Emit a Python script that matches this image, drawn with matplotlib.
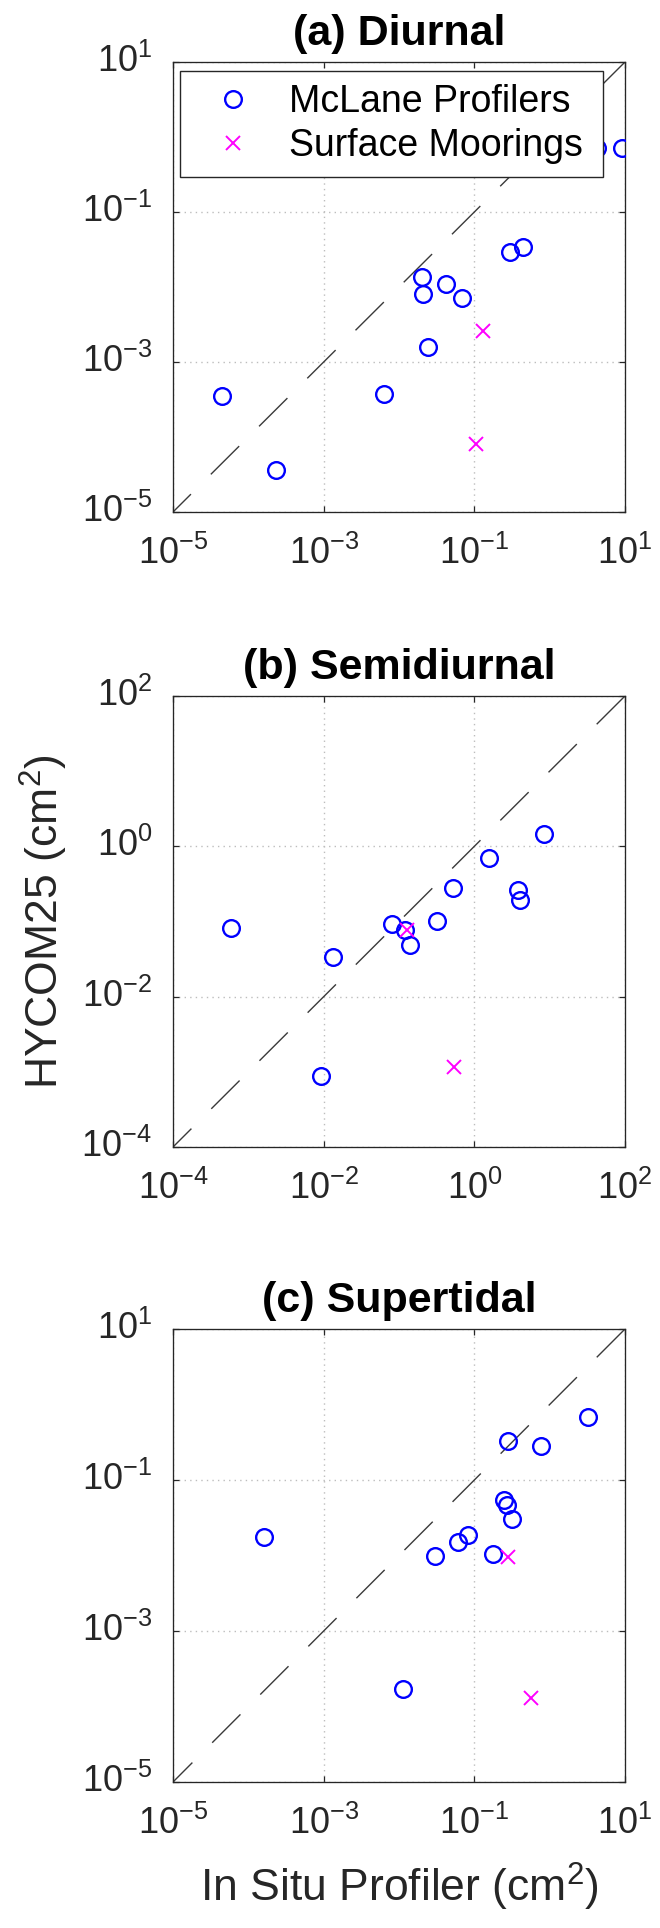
import matplotlib
matplotlib.use("Agg")
import matplotlib.pyplot as plt
from matplotlib.ticker import FixedLocator, NullLocator, LogFormatterSciNotation

# ---- data: (in situ profiler variance, HYCOM25 variance) in cm^2 ----
diurnal_mclane_x = [4.46e-5, 2.3e-4, 6.3e-3, 0.0202, 0.0207, 0.0242, 0.042, 0.0687, 0.302, 0.438, 9.04, 4.2]
diurnal_mclane_y = [3.48e-4, 3.6e-5, 3.7e-4, 0.0134, 8.07e-3, 1.6e-3, 0.0111, 7.08e-3, 0.0289, 0.034, 0.715, 0.715]
diurnal_mooring_x = [0.1306, 0.104]
diurnal_mooring_y = [2.57e-3, 8.07e-5]

semi_mclane_x = [5.83e-4, 0.0133, 9.3e-3, 0.080, 0.121, 0.139, 0.321, 0.524, 1.58, 3.76, 4.01, 8.36]
semi_mclane_y = [0.081, 0.034, 8.67e-4, 0.0938, 0.0773, 0.0489, 0.102, 0.281, 0.703, 0.261, 0.193, 1.45]
semi_mooring_x = [0.129, 0.531]
semi_mooring_y = [0.0764, 1.16e-3]

super_mclane_x = [1.6e-4, 0.01137, 0.0298, 0.0604, 0.0813, 0.175, 0.248, 0.275, 0.321, 0.279, 0.769, 3.24]
super_mclane_y = [0.0176, 1.72e-4, 0.0100, 0.0150, 0.0188, 0.0104, 0.0536, 0.0468, 0.0305, 0.327, 0.286, 0.684]
super_mooring_x = [0.282, 0.557]
super_mooring_y = [9.6e-3, 1.28e-4]

titles = ["(a) Diurnal", "(b) Semidiurnal", "(c) Supertidal"]
limits = [[1e-5, 1e1], [1e-4, 1e2], [1e-5, 1e1]]
ticks = [[1e-5, 1e-3, 1e-1, 1e1], [1e-4, 1e-2, 1e0, 1e2], [1e-5, 1e-3, 1e-1, 1e1]]
legend_labels = ["McLane Profilers", "Surface Moorings"]

# ---- style ----
plt.rcParams["font.family"] = ["Liberation Sans", "DejaVu Sans"]
plt.rcParams["mathtext.fontset"] = "custom"
plt.rcParams["mathtext.rm"] = "Liberation Sans"
plt.rcParams["mathtext.it"] = "Liberation Sans:italic"
plt.rcParams["mathtext.bf"] = "Liberation Sans:bold"
plt.rcParams["ytick.alignment"] = "center"
plt.rcParams["lines.scale_dashes"] = False

AX_COLOR = "#262626"
W, H = 660, 1928
fig = plt.figure(figsize=(W / 100, H / 100), dpi=100)

# axes boxes in pixels: (left, top, right, bottom)
boxes = [(173, 62, 625, 512), (173, 696, 625, 1147), (173, 1329, 625, 1782)]

panels = [
    (diurnal_mclane_x, diurnal_mclane_y, diurnal_mooring_x, diurnal_mooring_y),
    (semi_mclane_x, semi_mclane_y, semi_mooring_x, semi_mooring_y),
    (super_mclane_x, super_mclane_y, super_mooring_x, super_mooring_y),
]

axes = []
for i, (mx, my, sx, sy) in enumerate(panels):
    l, t, r, b = boxes[i]
    ax = fig.add_axes([l / W, 1 - b / H, (r - l) / W, (b - t) / H])
    axes.append(ax)
    ax.set_xscale("log")
    ax.set_yscale("log")
    lo, hi = limits[i]

    # one-to-one reference line, drawn from the upper end down
    ax.plot([hi, lo], [hi, lo], color="#3a3a3a", lw=1.0,
            linestyle=(0, (28.8, 20.2)), zorder=1.5)

    h1, = ax.plot(mx, my, linestyle="none", marker="o", ms=12, mew=1.7,
                  mfc="none", mec="#0000FF", zorder=3)
    h2, = ax.plot(sx, sy, linestyle="none", marker="x", ms=10, mew=1.4,
                  color="#FF00FF", zorder=3)

    ax.set_xlim(lo, hi)
    ax.set_ylim(lo, hi)
    for axis in (ax.xaxis, ax.yaxis):
        axis.set_major_locator(FixedLocator(ticks[i]))
        axis.set_minor_locator(NullLocator())
        axis.set_major_formatter(LogFormatterSciNotation())

    ax.set_axisbelow(True)
    ax.grid(True, which="major", linestyle=(0, (1, 3)), color="#bdbdbd", lw=1.0)
    ax.tick_params(which="major", direction="in", length=4, width=0.9,
                   top=True, right=True, labelsize=26, colors=AX_COLOR)
    ax.tick_params(axis="x", pad=17)
    ax.tick_params(axis="y", pad=15)
    for sp in ax.spines.values():
        sp.set_color(AX_COLOR)
        sp.set_linewidth(0.95)

    ax.set_title(titles[i], fontsize=31, fontweight="bold", pad=12, color="black")

    if i == 0:
        leg = ax.legend([h1, h2], legend_labels, loc="upper left",
                        bbox_to_anchor=(180 / W, 1 - 176 / H, 423 / W, 105 / H),
                        bbox_transform=fig.transFigure, mode="expand",
                        borderaxespad=0, fontsize=27, fancybox=False,
                        framealpha=1, edgecolor=AX_COLOR, borderpad=0.35,
                        handlelength=2.1, handletextpad=0.45, labelspacing=0.2)
        leg.get_frame().set_linewidth(1.0)
        leg.set_zorder(10)

axes[1].set_ylabel("HYCOM25 (cm$^{2}$)", fontsize=32, color=AX_COLOR)
axes[1].yaxis.set_label_coords(-0.228, 0.5)
axes[2].set_xlabel("In Situ Profiler (cm$^{2}$)", fontsize=32, color=AX_COLOR)
axes[2].xaxis.set_label_coords(0.5, -0.175)

fig.savefig("out.png", dpi=100)
